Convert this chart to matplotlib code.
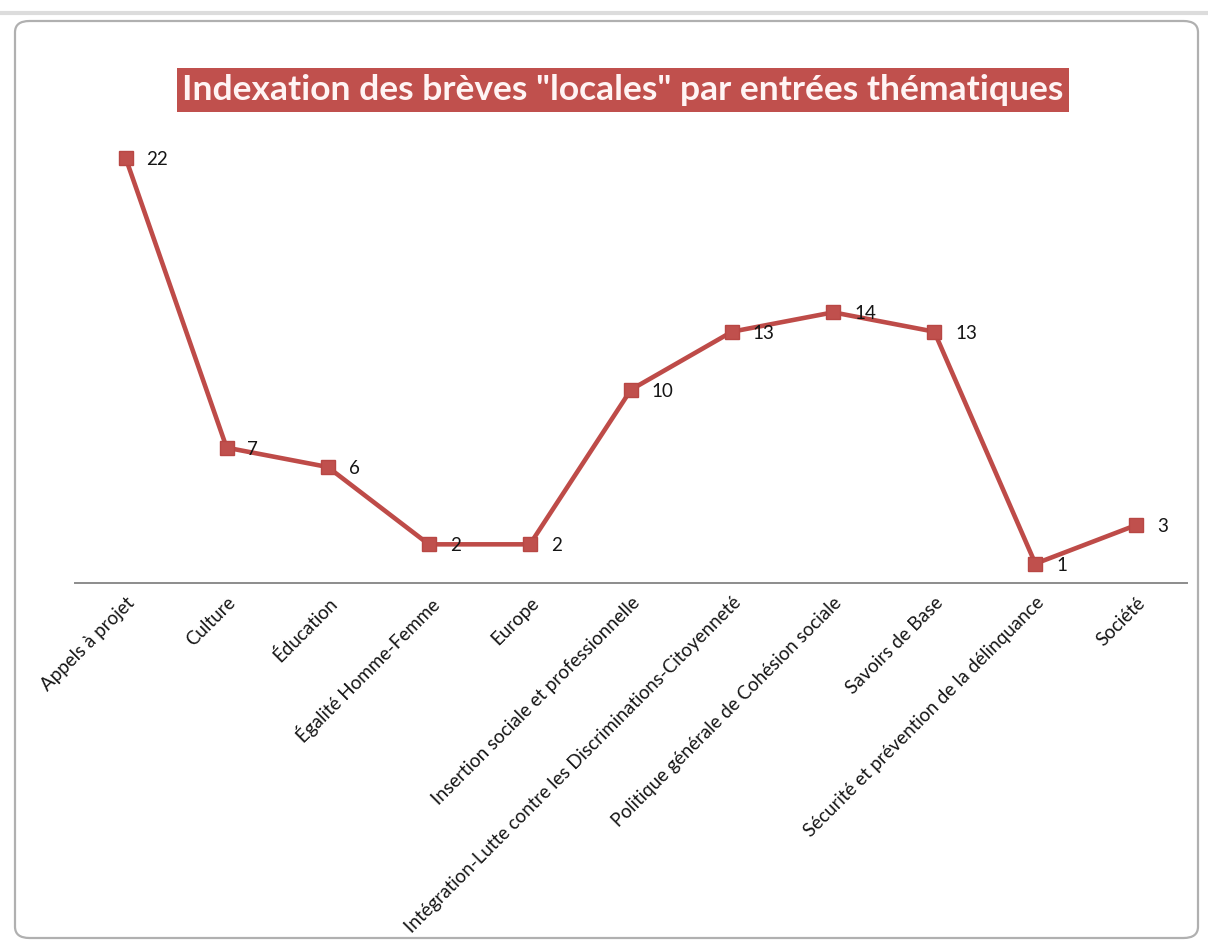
import matplotlib
matplotlib.use("Agg")
import matplotlib.pyplot as plt
from matplotlib.patches import FancyBboxPatch

categories = [
    "Appels à projet",
    "Culture",
    "Éducation",
    "Égalité Homme-Femme",
    "Europe",
    "Insertion sociale et professionnelle",
    "Intégration-Lutte contre les Discriminations-Citoyenneté",
    "Politique générale de Cohésion sociale",
    "Savoirs de Base",
    "Sécurité et prévention de la délinquance",
    "Société",
]
counts = [22, 7, 6, 2, 2, 10, 13, 14, 13, 1, 3]
title = 'Indexation des brèves "locales" par entrées thématiques'

plt.rcParams["font.family"] = ["Lato", "DejaVu Sans"]

W, H = 1208, 942
fig = plt.figure(figsize=(W / 100, H / 100), dpi=100)
fig.patch.set_facecolor("white")

# rounded chart frame
frame = FancyBboxPatch((15 / W, 4 / H), (1183 / W), (917 / H),
                       boxstyle="round,pad=0,rounding_size=0.012",
                       transform=fig.transFigure, facecolor="white",
                       edgecolor="#b0b0b0", linewidth=1.6, zorder=-5)
fig.patches.append(frame)
# sheet line above the chart
fig.add_artist(plt.Line2D([0, 1], [1 - 13 / H, 1 - 13 / H], transform=fig.transFigure,
                          color="#dcdcdc", linewidth=3, zorder=-6))

left, right = 75 / W, 1187 / W
bottom = (H - 583) / H
top = (H - 119) / H
ax = fig.add_axes([left, bottom, right - left, top - bottom], zorder=2)
ax.set_facecolor("none")

x = list(range(len(categories)))
ax.plot(x, counts, color="#be4b48", linewidth=3.3, marker="s", markersize=9.5,
        markerfacecolor="#c0504d", markeredgecolor="#b84744", clip_on=False, zorder=3)

for xi, v in zip(x, counts):
    ax.annotate(str(v), (xi, v), xytext=(15, -1), textcoords="offset points",
                ha="left", va="center", fontsize=13.5, color="#151515")

ax.set_xlim(-0.5, len(categories) - 0.5)
ax.set_ylim(0, 24)
ax.set_yticks([])
for s in ("left", "right", "top"):
    ax.spines[s].set_visible(False)
ax.spines["bottom"].set_color("#8c8c8c")
ax.spines["bottom"].set_linewidth(1.4)
ax.set_xticks(x)
ax.set_xticklabels(categories, rotation=45, ha="right", rotation_mode="anchor",
                   fontsize=13.5, color="#151515")
ax.tick_params(axis="x", length=0, pad=8)

fig.text(623 / W, 1 - 90 / H, title, ha="center", va="center", fontsize=25.5,
         fontweight="bold", color="#fff4f4", zorder=3,
         bbox=dict(boxstyle="square,pad=0.16", facecolor="#c0504d", edgecolor="none"))

fig.savefig("out.png", dpi=100, facecolor="white")
